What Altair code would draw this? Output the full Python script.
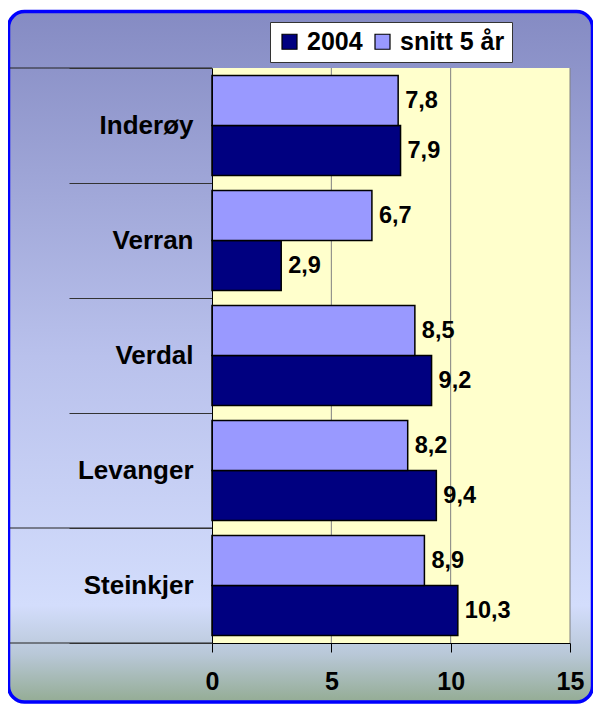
import altair as alt
import pandas as pd

# ---- data ----
kommuner = ["Inderøy", "Verran", "Verdal", "Levanger", "Steinkjer"]
serier = ["2004", "snitt 5 år"]
verdi_2004 = [7.9, 2.9, 9.2, 9.4, 10.3]
verdi_snitt = [7.8, 6.7, 8.5, 8.2, 8.9]
x_ticks = [0, 5, 10, 15]
grid_values = [5, 10, 15]
farger = ["#000080", "#9999FF"]

rows = []
for k, a, b in zip(kommuner, verdi_2004, verdi_snitt):
    rows.append({"kommune": k, "serie": "2004", "verdi": a})
    rows.append({"kommune": k, "serie": "snitt 5 år", "verdi": b})
df = pd.DataFrame(rows)
df["etikett"] = df["verdi"].map(lambda v: f"{v:.1f}".replace(".", ","))

W, H = 358, 575
FONT = "Liberation Sans"

xscale = alt.Scale(domain=[0, 15], nice=False, zero=True)
yscale = alt.Scale(paddingInner=0, paddingOuter=0)

# frame with gradient
frame = alt.Chart(pd.DataFrame({"a": [0]})).mark_rect(
    cornerRadius=16,
    stroke="#0000FF",
    strokeWidth=3.5,
    fill=alt.Gradient(
        gradient="linear",
        x1=0, x2=0, y1=0, y2=1,
        stops=[
            alt.GradientStop(offset=0, color="#858BC3"),
            alt.GradientStop(offset=0.5, color="#B9C1EC"),
            alt.GradientStop(offset=0.86, color="#D3DDFC"),
            alt.GradientStop(offset=0.93, color="#B9C8D8"),
            alt.GradientStop(offset=1, color="#94AC94"),
        ],
    ),
).encode(x=alt.value(-203.5), x2=alt.value(380.5), y=alt.value(-56.5), y2=alt.value(634))

plotbg = alt.Chart(pd.DataFrame({"a": [0]})).mark_rect(fill="#FFFFCC").encode(
    x=alt.value(0), x2=alt.value(W), y=alt.value(0), y2=alt.value(H)
)

grid = alt.Chart(pd.DataFrame({"verdi": grid_values})).mark_rule(
    color="#808080", strokeWidth=1
).encode(
    x=alt.X("verdi:Q", scale=xscale),
    y=alt.value(0), y2=alt.value(H),
)

yaxis = alt.Axis(
    title=None, grid=False, domain=True, domainColor="black", domainWidth=1,
    ticks=True, tickBand="extent", tickSize=143, tickColor="#333333", tickWidth=1,
    labelPadding=-124, labelFont=FONT, labelFontWeight="bold", labelFontSize=26,
    labelColor="black", zindex=1,
)
xaxis = alt.Axis(
    title=None, values=x_ticks, grid=False, domainColor="black", domainWidth=1,
    tickColor="black", tickSize=9, tickWidth=1, labelPadding=17, labelFont=FONT,
    labelFontWeight="bold", labelFontSize=25, labelColor="black", labelFlush=False,
    zindex=1,
)

base = alt.Chart(df).encode(
    y=alt.Y("kommune:N", sort=kommuner, scale=yscale, axis=yaxis),
    yOffset=alt.YOffset("serie:N", sort=["snitt 5 år", "2004"],
                        scale=alt.Scale(paddingInner=0, paddingOuter=0.15)),
)

bars = base.mark_bar(stroke="black", strokeWidth=1.5).encode(
    x=alt.X("verdi:Q", scale=xscale, axis=xaxis),
    color=alt.Color(
        "serie:N",
        scale=alt.Scale(domain=serier, range=farger),
        legend=alt.Legend(
            title=None, orient="none", legendX=58, legendY=-46, direction="horizontal",
            fillColor="white", strokeColor="#333333", padding=7,
            symbolType="square", symbolSize=225, symbolStrokeColor="black",
            symbolStrokeWidth=1.2, labelFont=FONT, labelFontWeight="bold",
            labelFontSize=25, labelColor="black", labelOffset=5, columnPadding=7,
        ),
    ),
)

texts = base.mark_text(
    align="left", baseline="middle", dx=7, font=FONT, fontWeight="bold",
    fontSize=23.5, color="black",
).encode(x=alt.X("verdi:Q", scale=xscale), text="etikett:N")

sep_top = alt.Chart(pd.DataFrame({"kommune": ["Inderøy", "Steinkjer"]})).mark_rule(
    color="#222222", strokeWidth=1
).encode(
    y=alt.Y("kommune:N", sort=kommuner, scale=yscale, bandPosition=0),
    x=alt.value(-202), x2=alt.value(0),
)
sep_bot = alt.Chart(pd.DataFrame({"kommune": ["Steinkjer"]})).mark_rule(
    color="#222222", strokeWidth=1
).encode(
    y=alt.Y("kommune:N", sort=kommuner, scale=yscale, bandPosition=1),
    x=alt.value(-202), x2=alt.value(0),
)

chart = alt.layer(frame, plotbg, grid, bars, texts, sep_top, sep_bot).properties(
    width=W, height=H,
    autosize=alt.AutoSizeParams(type="none"),
    padding={"left": 204, "top": 60, "right": 23, "bottom": 61},
).configure_view(strokeWidth=0).configure(background="white")

chart.save("out.html", embed_options={"renderer": "svg", "actions": False})
